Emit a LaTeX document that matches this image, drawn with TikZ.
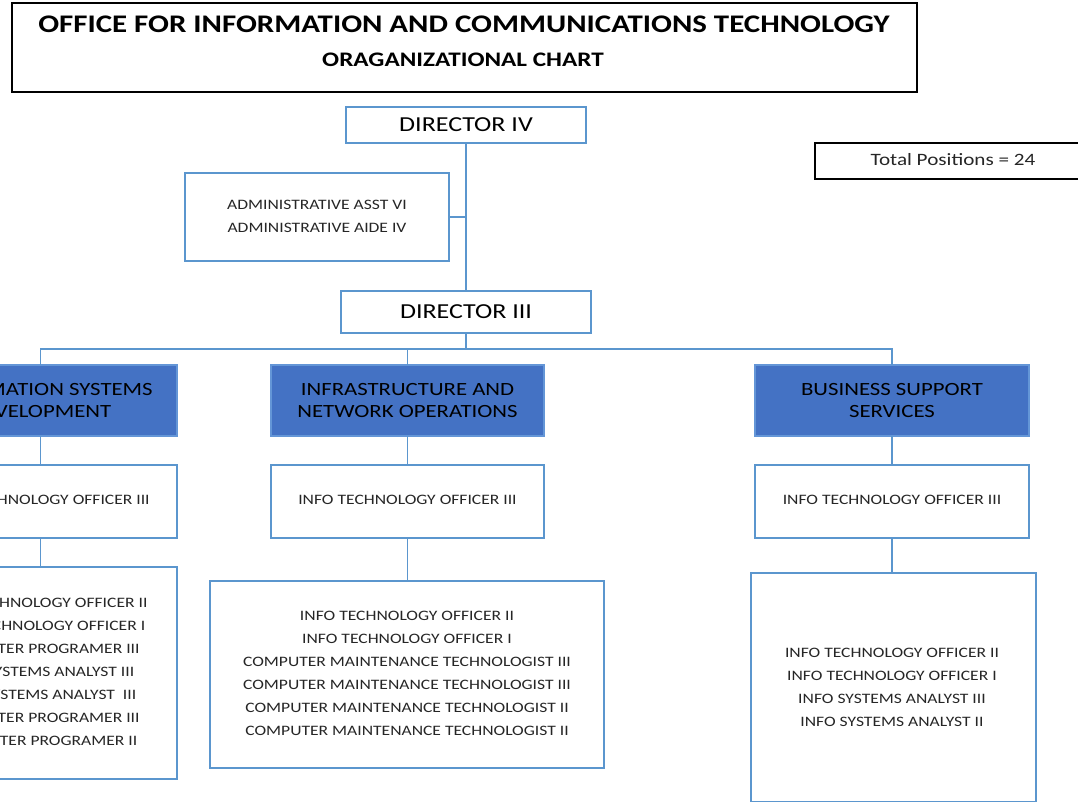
\documentclass[tikz,border=0pt]{standalone}
\usepackage{fontspec}
\setmainfont{Carlito}[FakeStretch=1.22]
\definecolor{linkblue}{RGB}{91,150,206}
\definecolor{unitfill}{RGB}{68,114,196}
\definecolor{unitedge}{RGB}{100,150,215}
\definecolor{inktext}{RGB}{38,38,38}
\begin{document}
\begin{tikzpicture}[x=0.75pt,y=-0.75pt,
  every node/.style={inner sep=0pt, outer sep=0pt},
  plainbox/.style={draw=black, line width=0.9pt, fill=white},
  postbox/.style={draw=linkblue, line width=1.1pt, fill=white},
  unitbox/.style={draw=unitedge, line width=1.1pt, fill=unitfill, text=black,
    align=center, font=\fontsize{14}{16.5}\selectfont},
  listtext/.style={align=center, text=inktext, font=\fontsize{10.8}{17.25}\selectfont},
  link/.style={draw=linkblue, line width=1.1pt}]
\useasboundingbox (0,0) rectangle (1078,801);
\clip (0,0) rectangle (1078,801);

% heading
\node[plainbox, minimum width=678.75pt, minimum height=66.75pt] (title) at (464.5,47.5) {};
\node[font=\bfseries\fontsize{19}{22}\selectfont] (titletext) at (464,24) {OFFICE FOR INFORMATION AND COMMUNICATIONS TECHNOLOGY};
\node[font=\bfseries\fontsize{15.5}{18}\selectfont] (subtitle) at (463,60) {ORAGANIZATIONAL CHART};

% summary
\node[plainbox, minimum width=202.5pt, minimum height=27pt] (total) at (950,161) {};
\node[font=\fontsize{13}{15}\selectfont, text=inktext] (totaltext) at (953,160) {Total Positions = 24};

% top management
\node[postbox, minimum width=180pt, minimum height=27pt, font=\fontsize{16}{18}\selectfont] (dir4) at (466,125) {DIRECTOR IV};
\node[postbox, minimum width=198pt, minimum height=66pt] (admin) at (317,217) {};
\node[listtext] (admintext) at (317,216) {ADMINISTRATIVE ASST VI\\ADMINISTRATIVE AIDE IV};
\node[postbox, minimum width=187.5pt, minimum height=31.5pt, font=\fontsize{16}{18}\selectfont] (dir3) at (466,312) {DIRECTOR III};

% divisions
\node[unitbox, minimum width=204.75pt, minimum height=53.25pt] (isd) at (40.5,400.5) {INFORMATION SYSTEMS\\DEVELOPMENT};
\node[unitbox, minimum width=204.75pt, minimum height=53.25pt] (ino) at (407.5,400.5) {INFRASTRUCTURE AND\\NETWORK OPERATIONS};
\node[unitbox, minimum width=205.5pt, minimum height=53.25pt] (bss) at (892,400.5) {BUSINESS SUPPORT\\SERVICES};

% section heads
\node[postbox, minimum width=204.75pt, minimum height=54.75pt] (isdhead) at (40.5,501.5) {};
\node[listtext] at (40.5,500) {INFO TECHNOLOGY OFFICER III};
\node[postbox, minimum width=204.75pt, minimum height=54.75pt] (inohead) at (407.5,501.5) {};
\node[listtext] at (407.5,500) {INFO TECHNOLOGY OFFICER III};
\node[postbox, minimum width=205.5pt, minimum height=54.75pt] (bsshead) at (892,501.5) {};
\node[listtext] at (892,500) {INFO TECHNOLOGY OFFICER III};

% staff
\node[postbox, minimum width=204.75pt, minimum height=159pt] (isdstaff) at (40.5,673) {};
\node[listtext] at (40.5,672) {INFO TECHNOLOGY OFFICER II\\INFO TECHNOLOGY OFFICER I\\COMPUTER PROGRAMER III\\INFO SYSTEMS ANALYST III\\INFO SYSTEMS ANALYST\ \ III\\COMPUTER PROGRAMER III\\COMPUTER PROGRAMER II};
\node[postbox, minimum width=295.5pt, minimum height=140.25pt] (inostaff) at (407,674.5) {};
\node[listtext] at (407,673) {INFO TECHNOLOGY OFFICER II\\INFO TECHNOLOGY OFFICER I\\COMPUTER MAINTENANCE TECHNOLOGIST III\\COMPUTER MAINTENANCE TECHNOLOGIST III\\COMPUTER MAINTENANCE TECHNOLOGIST II\\COMPUTER MAINTENANCE TECHNOLOGIST II};
\node[postbox, minimum width=213.75pt, minimum height=171.75pt] (bssstaff) at (893.5,687.5) {};
\node[listtext] at (892,687.5) {INFO TECHNOLOGY OFFICER II\\INFO TECHNOLOGY OFFICER I\\INFO SYSTEMS ANALYST III\\INFO SYSTEMS ANALYST II};

% reporting lines
\coordinate (bus) at (466,349);
\path[link] (dir4.south) -- (dir3.north);
\path[link] (admin.east) -- (admin.east -| dir4.south);
\path[link] (dir3.south) -- (bus);
\path[link] (isd.north) |- (bus);
\path[link] (ino.north) |- (bus);
\path[link] (bss.north) |- (bus);
\path[link] (isd.south) -- (isdhead.north);
\path[link] (ino.south) -- (inohead.north);
\path[link] (bss.south) -- (bsshead.north);
\path[link] (isdhead.south) -- (isdhead.south |- isdstaff.north);
\path[link] (inohead.south) -- (inohead.south |- inostaff.north);
\path[link] (bsshead.south) -- (bsshead.south |- bssstaff.north);
\end{tikzpicture}
\end{document}
